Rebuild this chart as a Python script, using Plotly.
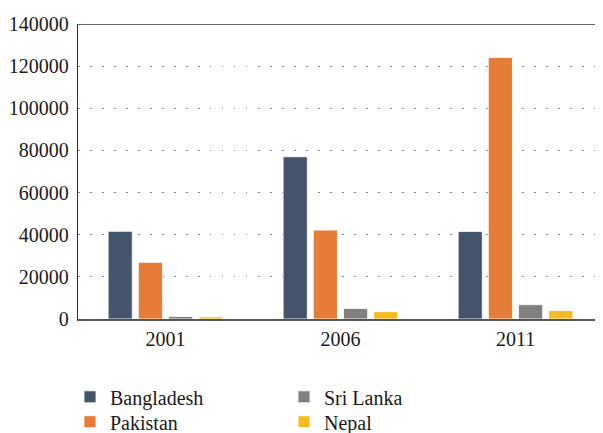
import plotly.graph_objects as go

years = ["2001", "2006", "2011"]
bangladesh = [41600, 77000, 41500]
pakistan = [26900, 42200, 124100]
sri_lanka = [1200, 5000, 6800]
nepal = [1000, 3500, 4000]
y_ticks = [0, 20000, 40000, 60000, 80000, 100000, 120000, 140000]

font_family = "Liberation Serif"
FS = 20

# figure is placed at an 8px page offset (default body margin)
W, H = 595, 425
ML, MT, MB, MR = 70, 15.5, 113.5, 0
plot_w = W - ML - MR
plot_h = H - MT - MB
base = H - MB  # pixel y of the x axis

# (name, values, colour, legend id, legend left px, legend top px)
series = [
    ("Bangladesh", bangladesh, "#44546A", "legend", 62, 370),
    ("Pakistan", pakistan, "#E67C35", "legend2", 62, 395),
    ("Sri Lanka", sri_lanka, "#808080", "legend3", 276, 370),
    ("Nepal", nepal, "#F5BC1F", "legend4", 276, 395),
]

fig = go.Figure()
legends = {}
for name, vals, color, leg, lx, ly in series:
    fig.add_trace(go.Bar(
        x=years, y=vals, name=name,
        marker=dict(color=color, line=dict(color="rgba(255,255,255,0.8)", width=1)),
        legend=leg,
    ))
    legends[leg] = dict(
        orientation="v", x=(lx - ML) / plot_w, y=-(ly - base) / plot_h,
        xanchor="left", yanchor="top", font=dict(size=FS),
        itemclick=False, bgcolor="rgba(0,0,0,0)",
    )

fig.update_layout(
    width=W, height=H,
    margin=dict(l=ML, r=MR, t=MT, b=MB, autoexpand=False),
    paper_bgcolor="white", plot_bgcolor="white",
    barmode="group", bargap=0.31, bargroupgap=0.2,
    font=dict(family=font_family, size=FS, color="#1a1a1a"),
    xaxis=dict(
        showline=True, linecolor="#555555", linewidth=2,
        showgrid=False, ticks="", tickfont=dict(size=FS),
        ticklabelstandoff=1,
    ),
    yaxis=dict(
        range=[0, 140000], tickvals=y_ticks,
        ticktext=[str(v) for v in y_ticks],
        showline=True, linecolor="#333333", linewidth=1.3,
        showgrid=True, gridcolor="#8a8a8a", gridwidth=1.3,
        griddash="1.5px,10.5px",
        zeroline=False, ticks="", ticklabelstandoff=4,
        tickfont=dict(size=FS),
    ),
    showlegend=True,
    **legends,
)

# solid top border line at 140000
fig.add_shape(type="line", xref="paper", yref="y", x0=0, x1=1,
              y0=140000, y1=140000, line=dict(color="#333333", width=1.5))

fig.write_html("out.html")
